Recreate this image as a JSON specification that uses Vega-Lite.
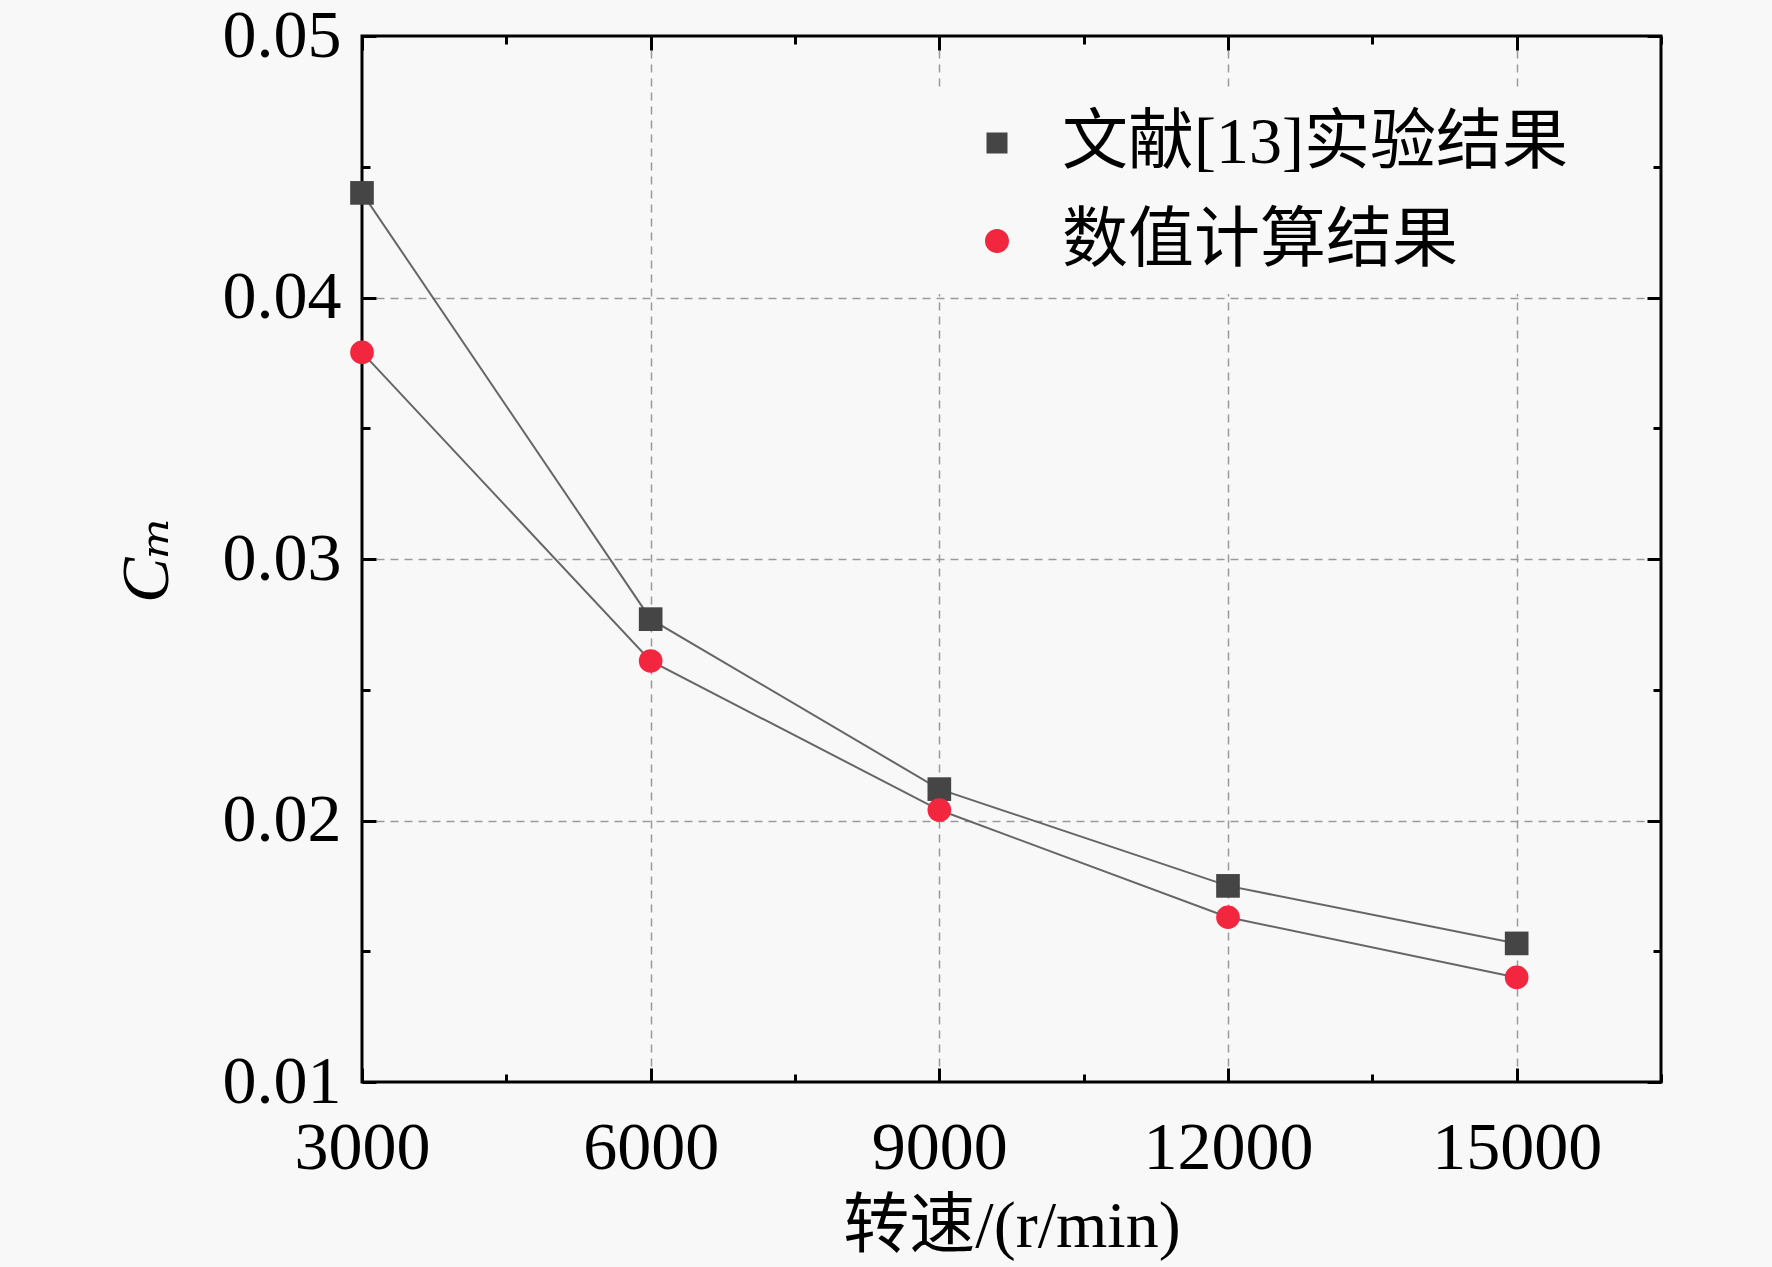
{
  "$schema": "https://vega.github.io/schema/vega-lite/v6.json",
  "width": 1299,
  "height": 1046,
  "autosize": {"type": "none"},
  "padding": {"left": 362, "top": 36, "right": 111, "bottom": 185},
  "background": "#f8f8f8",
  "config": {
    "view": {"stroke": "#000000", "strokeWidth": 3},
    "font": "Liberation Serif, Noto Sans CJK SC, DejaVu Serif"
  },
  "data": {
    "values": [
      {"rpm": 3000, "cm": 0.0440, "series": "文献[13]实验结果"},
      {"rpm": 6000, "cm": 0.0277, "series": "文献[13]实验结果"},
      {"rpm": 9000, "cm": 0.0212, "series": "文献[13]实验结果"},
      {"rpm": 12000, "cm": 0.0175, "series": "文献[13]实验结果"},
      {"rpm": 15000, "cm": 0.0153, "series": "文献[13]实验结果"},
      {"rpm": 3000, "cm": 0.0379, "series": "数值计算结果"},
      {"rpm": 6000, "cm": 0.0261, "series": "数值计算结果"},
      {"rpm": 9000, "cm": 0.0204, "series": "数值计算结果"},
      {"rpm": 12000, "cm": 0.0163, "series": "数值计算结果"},
      {"rpm": 15000, "cm": 0.0140, "series": "数值计算结果"}
    ]
  },
  "resolve": {"axis": {"x": "independent", "y": "independent"}},
  "layer": [
    {
      "mark": {"type": "line", "strokeWidth": 2, "color": "#666666"},
      "encoding": {
        "x": {
          "field": "rpm", "type": "quantitative",
          "scale": {"domain": [3000, 16500], "nice": false, "zero": false},
          "axis": {
            "orient": "bottom",
            "values": [3000, 4500, 6000, 7500, 9000, 10500, 12000, 13500, 15000, 16500],
            "format": "d",
            "labelExpr": "datum.value % 3000 === 0 && datum.value < 16000 ? datum.label : ''",
            "domain": false,
            "ticks": true,
            "tickColor": "#000000",
            "tickWidth": 3,
            "tickSize": {"condition": {"test": "datum.value % 3000 === 0", "value": -14}, "value": -8},
            "grid": true,
            "gridColor": "#9a9a9a",
            "gridDash": [8, 6],
            "gridWidth": 1.5,
            "gridOpacity": {"condition": {"test": "datum.value % 3000 === 0 && datum.value > 3000 && datum.value < 16000", "value": 1}, "value": 0},
            "labelFontSize": 68,
            "labelColor": "#000000",
            "labelFlush": false,
            "labelOverlap": false,
            "labelBound": false,
            "labelPadding": 46,
            "labelBaseline": "top",
            "title": "转速/(r/min)",
            "titleFontSize": 66,
            "titleFontWeight": "normal",
            "titleColor": "#000000",
            "titleBaseline": "middle",
            "titleY": 144
          }
        },
        "y": {
          "field": "cm", "type": "quantitative",
          "scale": {"domain": [0.01, 0.05], "nice": false, "zero": false},
          "axis": {
            "orient": "left",
            "values": [0.01, 0.015, 0.02, 0.025, 0.03, 0.035, 0.04, 0.045, 0.05],
            "format": ".2f",
            "labelExpr": "abs(datum.value * 100 - round(datum.value * 100)) < 0.000001 ? datum.label : ''",
            "domain": false,
            "tickColor": "#000000",
            "tickWidth": 3,
            "tickSize": {"condition": {"test": "abs(datum.value * 100 - round(datum.value * 100)) < 0.000001", "value": -14}, "value": -8},
            "grid": true,
            "gridColor": "#9a9a9a",
            "gridDash": [8, 6],
            "gridWidth": 1.5,
            "gridOpacity": {"condition": {"test": "abs(datum.value * 100 - round(datum.value * 100)) < 0.000001 && datum.value > 0.015 && datum.value < 0.045", "value": 1}, "value": 0},
            "labelFontSize": 68,
            "labelColor": "#000000",
            "labelFlush": false,
            "labelOverlap": false,
            "labelBound": false,
            "labelPadding": 35,
            "labelBaseline": "middle",
            "title": "Cₘ",
            "titleFontSize": 68,
            "titleFontStyle": "italic",
            "titleFontWeight": "normal",
            "titleColor": "#000000",
            "titleX": -215,
            "titleBaseline": "middle"
          }
        },
        "detail": {"field": "series", "type": "nominal"}
      }
    },
    {
      "transform": [{"filter": "datum.series === '文献[13]实验结果'"}],
      "mark": {"type": "point", "filled": true, "opacity": 1, "size": 560, "shape": "square", "color": "#454545"},
      "encoding": {
        "x": {"field": "rpm", "type": "quantitative", "axis": null},
        "y": {"field": "cm", "type": "quantitative", "axis": null}
      }
    },
    {
      "transform": [{"filter": "datum.series === '数值计算结果'"}],
      "mark": {"type": "point", "filled": true, "opacity": 1, "size": 560, "shape": "circle", "color": "#f2263e"},
      "encoding": {
        "x": {"field": "rpm", "type": "quantitative", "axis": null},
        "y": {"field": "cm", "type": "quantitative", "axis": null}
      }
    },
    {
      "mark": {"type": "point", "filled": true, "opacity": 0, "stroke": "#666666", "strokeWidth": 2},
      "encoding": {
        "x": {
          "field": "rpm", "type": "quantitative",
          "axis": {
            "orient": "top",
            "values": [3000, 4500, 6000, 7500, 9000, 10500, 12000, 13500, 15000, 16500],
            "labels": false,
            "domain": false,
            "grid": false,
            "title": null,
            "tickColor": "#000000",
            "tickWidth": 3,
            "tickSize": {"condition": {"test": "datum.value % 3000 === 0", "value": -14}, "value": -8}
          }
        },
        "y": {
          "field": "cm", "type": "quantitative",
          "axis": {
            "orient": "right",
            "values": [0.01, 0.015, 0.02, 0.025, 0.03, 0.035, 0.04, 0.045, 0.05],
            "labels": false,
            "domain": false,
            "grid": false,
            "title": null,
            "tickColor": "#000000",
            "tickWidth": 3,
            "tickSize": {"condition": {"test": "abs(datum.value * 100 - round(datum.value * 100)) < 0.000001", "value": -14}, "value": -8}
          }
        },
        "shape": {
          "field": "series", "type": "nominal",
          "scale": {
            "domain": ["文献[13]实验结果", "数值计算结果"],
            "range": ["M-1,0H0.65M1.35,0H3M0.65,-0.35H1.35V0.35H0.65Z", "M-1,0H0.6M1.4,0H3M1.4,0A0.4,0.4,0,1,1,0.6,0A0.4,0.4,0,1,1,1.4,0Z"]
          },
          "legend": {
            "orient": "none",
            "legendX": 552,
            "legendY": 54,
            "title": null,
            "fillColor": "#f8f8f8",
            "padding": 20,
            "labelFontSize": 66,
            "labelColor": "#000000",
            "labelFont": "Liberation Serif, Noto Sans CJK SC",
            "labelLimit": 1000,
            "symbolSize": 3600,
            "symbolStrokeColor": "#666666",
            "symbolStrokeWidth": 2,
            "symbolOpacity": 1,
            "labelOffset": 62,
            "rowPadding": 32,
            "encode": {
              "symbols": {
                "stroke": {"value": "#666666"},
                "strokeWidth": {"value": 2},
                "strokeOpacity": {"value": 1}
              }
            }
          }
        },
        "fill": {
          "field": "series", "type": "nominal",
          "scale": {"domain": ["文献[13]实验结果", "数值计算结果"], "range": ["#454545", "#f2263e"]}
        }
      }
    }
  ]
}
